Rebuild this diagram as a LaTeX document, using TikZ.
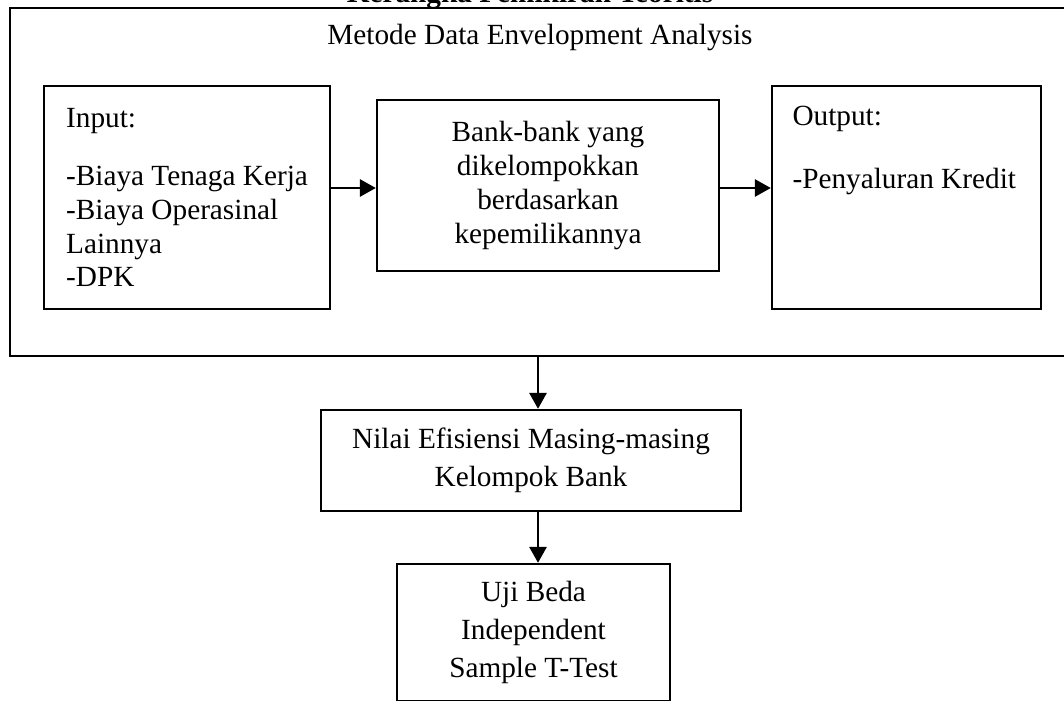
\documentclass[tikz,border=0pt]{standalone}
\usepackage{fontspec}
\setmainfont{Liberation Serif}
\usetikzlibrary{arrows.meta}
\newcommand{\pxu}{0.41pt}
\tikzset{
  box/.style={rectangle, draw=black, line width=1pt, inner sep=0pt,
              font=\fontsize{12}{13.9}\selectfont},
  txt/.style={inner sep=0pt, font=\fontsize{12}{13.9}\selectfont},
  wide/.style={font=\fontsize{12}{15.6}\selectfont},
  flow/.style={-{Triangle[length=6.5pt,width=7pt]}, line width=1pt}
}
\begin{document}
\begin{tikzpicture}[x=\pxu, y=-\pxu]
\useasboundingbox (0,0) rectangle (1064,700);
\node[txt, anchor=base, font=\bfseries\fontsize{12}{13.9}\selectfont] (title) at (530,3) {Kerangka Pemikiran Teoritis};
\node[box, minimum width=1065*\pxu, minimum height=348*\pxu] (dea) at (542.5,182) {};
\node[txt, anchor=base] (deatitle) at (540,45) {Metode Data Envelopment Analysis};
\node[box, align=left, minimum width=286*\pxu, minimum height=223*\pxu] (input) at (187,197.5)
  {Input:\\[9.9pt]-Biaya Tenaga Kerja\\-Biaya Operasinal\\Lainnya\\-DPK};
\node[box, align=center, minimum width=342*\pxu, minimum height=171*\pxu] (bank) at (548,185.5)
  {Bank-bank yang\\dikelompokkan\\berdasarkan\\kepemilikannya};
\node[box, minimum width=269*\pxu, minimum height=223*\pxu] (output) at (906.5,197.5) {};
\node[txt, anchor=base west] (outhead) at (792,125) {Output:};
\node[txt, anchor=base west] (outitem) at (792,188) {-Penyaluran Kredit};
\node[box, wide, align=center, minimum width=420*\pxu, minimum height=101*\pxu] (nilai) at (531,460.5)
  {Nilai Efisiensi Masing-masing\\Kelompok Bank};
\node[box, wide, align=center, minimum width=273*\pxu, minimum height=137*\pxu] (uji) at (533.5,632.5)
  {Uji Beda\\Independent\\Sample T-Test};
\coordinate (ay) at (0,188);
\coordinate (ax) at (538,0);
\draw[flow] (input.east |- ay) -- (bank.west |- ay);
\draw[flow] (bank.east |- ay) -- (output.west |- ay);
\draw[flow] (dea.south -| ax) -- (nilai.north -| ax);
\draw[flow] (nilai.south -| ax) -- (uji.north -| ax);
\end{tikzpicture}
\end{document}
